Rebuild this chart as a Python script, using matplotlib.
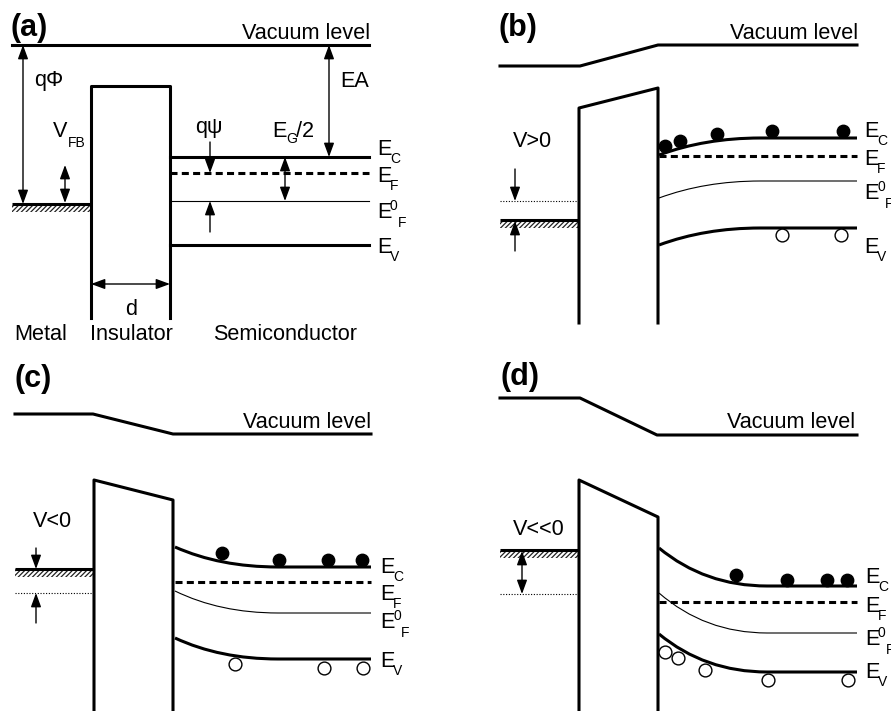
import matplotlib
matplotlib.use('Agg')
import matplotlib.pyplot as plt
from matplotlib.path import Path
from matplotlib.patches import PathPatch, Rectangle

plt.rcParams['font.family'] = ['Liberation Sans', 'DejaVu Sans']
plt.rcParams['hatch.linewidth'] = 0.9

# schematic coordinates (pixel-like, y grows downward)
# panel (a): flat band
vac_a_x = [12, 369]
vac_a_y = [45, 45]
ins_a_x = [91, 91, 170, 170]
ins_a_y = [318, 86, 86, 318]
metal_a = (12, 91, 204)
semi_a_x = (170, 369)
levels_a = {'EC': 157, 'EF': 173, 'EF0': 201, 'EV': 245}

# panel (b): V > 0, accumulation
vac_b_x = [500, 580, 658, 857]
vac_b_y = [66, 66, 45, 45]
ins_b_x = [579, 579, 658, 658]
ins_b_y = [323, 108, 88, 323]
metal_b = (500, 579, 220)
dotted_b = 201
ef_b = 156
# bands: (start, control, end of bending), flat part continues to x_end
bands_b = {'EC': [(659, 155), (705, 138), (760, 138)],
           'EF0': [(659, 198), (705, 181), (760, 181)],
           'EV': [(659, 245), (705, 228), (760, 228)]}
semi_b_x = (659, 857)
electrons_b = [(665, 146), (680, 141), (717, 134), (772, 131), (843, 131)]
holes_b = [(782, 235), (841, 235)]

# panel (c): V < 0, depletion
vac_c_x = [15, 93, 173, 371]
vac_c_y = [414, 414, 434, 434]
ins_c_x = [94, 94, 173, 173]
ins_c_y = [711, 480, 500, 711]
metal_c = (15, 94, 569)
dotted_c = 593
ef_c = 582
bands_c = {'EC': [(175, 547), (220, 567), (278, 567)],
           'EF0': [(175, 591), (220, 613), (278, 613)],
           'EV': [(175, 638), (220, 659), (278, 659)]}
semi_c_x = (175, 371)
electrons_c = [(222, 553), (279, 560), (328, 560), (362, 560)]
holes_c = [(235, 664), (324, 668), (363, 668)]

# panel (d): V << 0, inversion
vac_d_x = [500, 580, 657, 857]
vac_d_y = [398, 398, 435, 435]
ins_d_x = [579, 579, 658, 658]
ins_d_y = [711, 480, 517, 711]
metal_d = (500, 579, 550)
dotted_d = 594
ef_d = 602
bands_d = {'EC': [(659, 548), (705, 586), (767, 586)],
           'EF0': [(659, 593), (705, 633), (767, 633)],
           'EV': [(659, 634), (705, 672), (767, 672)]}
semi_d_x = (659, 857)
electrons_d = [(736, 575), (787, 580), (827, 580), (847, 580)]
holes_d = [(665, 652), (678, 658), (705, 670), (768, 680), (848, 680)]

FS = 15.6
FS_SUB = 10
LW = 2.2

fig = plt.figure(figsize=(8.91, 7.11), dpi=100)
ax = fig.add_axes([0, 0, 1, 1])
ax.set_xlim(0, 891)
ax.set_ylim(711, 0)
ax.axis('off')


def arrow(x0, y0, x1, y1, both=False):
    style = '<|-|>' if both else '-|>'
    ax.annotate('', xy=(x1, y1), xytext=(x0, y0),
                arrowprops=dict(arrowstyle=style + ',head_length=0.6,head_width=0.22',
                                mutation_scale=14, lw=1, color='k',
                                shrinkA=0, shrinkB=0))


def metal(x0, x1, y):
    ax.add_patch(Rectangle((x0, y), x1 - x0, 8, facecolor='white',
                           edgecolor='#222222', lw=0, hatch='///////'))
    ax.plot([x0, x1], [y, y], color='k', lw=LW, solid_capstyle='butt')


def bent(pts, x_end, lw):
    (x0, y0), c, (x1, y1) = pts
    path = Path([(x0, y0), c, (x1, y1), (x_end, y1)],
                [Path.MOVETO, Path.CURVE3, Path.CURVE3, Path.LINETO])
    ax.add_patch(PathPatch(path, facecolor='none', edgecolor='k', lw=lw))


def ef_line(x0, x1, y):
    ax.plot([x0, x1], [y, y], color='k', lw=LW, dashes=(2.3, 1.4))


def label(x, yb, sub, sup=None):
    ax.text(x, yb, 'E', fontsize=FS, va='baseline', ha='left')
    if sup:
        ax.text(x + 13, yb - 8, sup, fontsize=FS_SUB, va='baseline')
        ax.text(x + 21, yb + 9, sub, fontsize=FS_SUB, va='baseline')
    else:
        ax.text(x + 13, yb + 8, sub, fontsize=FS_SUB, va='baseline')


def carriers(el, ho):
    ax.scatter([p[0] for p in el], [p[1] for p in el], s=80, color='k', zorder=5)
    ax.scatter([p[0] for p in ho], [p[1] for p in ho], s=85, facecolor='white',
               edgecolor='k', linewidths=1, zorder=5)


# ---- (a)
ax.text(11, 36, '(a)', fontsize=22, fontweight='bold', va='baseline')
ax.text(370, 39, 'Vacuum level', fontsize=FS, ha='right', va='baseline')
ax.plot(vac_a_x, vac_a_y, color='k', lw=LW)
ax.plot(ins_a_x, ins_a_y, color='k', lw=LW)
metal(*metal_a)
x0, x1 = semi_a_x
ax.plot([x0, x1], [levels_a['EC']] * 2, color='k', lw=LW)
ef_line(x0, x1, levels_a['EF'])
ax.plot([x0, x1], [levels_a['EF0']] * 2, color='k', lw=0.8)
ax.plot([x0, x1], [levels_a['EV']] * 2, color='k', lw=LW)
arrow(23, 45, 23, metal_a[2], both=True)
arrow(65, 165, 65, metal_a[2] - 1, both=True)
arrow(329, 45, 329, levels_a['EC'], both=True)
arrow(210, 142, 210, levels_a['EF'])
arrow(210, 232, 210, levels_a['EF0'])
arrow(285, levels_a['EC'], 285, levels_a['EF0'], both=True)
arrow(91, 284, 170, 284, both=True)
ax.text(34, 86, 'qΦ', fontsize=FS, va='baseline')
ax.text(340, 87, 'EA', fontsize=FS, va='baseline')
ax.text(53, 137, 'V', fontsize=FS, va='baseline')
ax.text(68, 147, 'FB', fontsize=FS_SUB, va='baseline')
ax.text(195, 133, 'qψ', fontsize=FS, va='baseline')
ax.text(272, 137, 'E', fontsize=FS, va='baseline')
ax.text(286, 143, 'G', fontsize=FS_SUB, va='baseline')
ax.text(296, 137, '/2', fontsize=FS, va='baseline')
ax.text(131, 315, 'd', fontsize=FS, va='baseline', ha='center')
ax.text(14, 340, 'Metal', fontsize=FS, va='baseline')
ax.text(90, 340, 'Insulator', fontsize=FS, va='baseline')
ax.text(213, 340, 'Semiconductor', fontsize=FS, va='baseline')
label(377, 155, 'C')
label(377, 182, 'F')
label(377, 218, 'F', '0')
label(377, 253, 'V')

# ---- (b)
ax.text(498, 36, '(b)', fontsize=22, fontweight='bold', va='baseline')
ax.text(858, 39, 'Vacuum level', fontsize=FS, ha='right', va='baseline')
ax.plot(vac_b_x, vac_b_y, color='k', lw=LW)
ax.plot(ins_b_x, ins_b_y, color='k', lw=LW)
metal(*metal_b)
ax.plot([metal_b[0], metal_b[1]], [dotted_b] * 2, color='k', lw=0.8, ls=(0, (1, 1.5)))
arrow(515, 169, 515, dotted_b)
arrow(515, 251, 515, metal_b[2] + 1)
ax.text(513, 147, 'V>0', fontsize=FS, va='baseline')
bent(bands_b['EC'], semi_b_x[1], LW)
bent(bands_b['EF0'], semi_b_x[1], 0.8)
bent(bands_b['EV'], semi_b_x[1], LW)
ef_line(semi_b_x[0], semi_b_x[1], ef_b)
carriers(electrons_b, holes_b)
label(864, 137, 'C')
label(864, 165, 'F')
label(864, 199, 'F', '0')
label(864, 253, 'V')

# ---- (c)
ax.text(15, 387, '(c)', fontsize=22, fontweight='bold', va='baseline')
ax.text(371, 428, 'Vacuum level', fontsize=FS, ha='right', va='baseline')
ax.plot(vac_c_x, vac_c_y, color='k', lw=LW)
ax.plot(ins_c_x, ins_c_y, color='k', lw=LW)
metal(*metal_c)
ax.plot([metal_c[0], metal_c[1]], [dotted_c] * 2, color='k', lw=0.8, ls=(0, (1, 1.5)))
arrow(36, 548, 36, metal_c[2])
arrow(36, 623, 36, dotted_c)
ax.text(33, 527, 'V<0', fontsize=FS, va='baseline')
bent(bands_c['EC'], semi_c_x[1], LW)
bent(bands_c['EF0'], semi_c_x[1], 0.8)
bent(bands_c['EV'], semi_c_x[1], LW)
ef_line(semi_c_x[0], semi_c_x[1], ef_c)
carriers(electrons_c, holes_c)
label(380, 573, 'C')
label(380, 600, 'F')
label(380, 628, 'F', '0')
label(380, 667, 'V')

# ---- (d)
ax.text(500, 385, '(d)', fontsize=22, fontweight='bold', va='baseline')
ax.text(855, 428, 'Vacuum level', fontsize=FS, ha='right', va='baseline')
ax.plot(vac_d_x, vac_d_y, color='k', lw=LW)
ax.plot(ins_d_x, ins_d_y, color='k', lw=LW)
metal(*metal_d)
ax.plot([metal_d[0], metal_d[1]], [dotted_d] * 2, color='k', lw=0.8, ls=(0, (1, 1.5)))
arrow(522, metal_d[2] + 1, 522, dotted_d, both=True)
ax.text(513, 535, 'V<<0', fontsize=FS, va='baseline')
bent(bands_d['EC'], semi_d_x[1], LW)
bent(bands_d['EF0'], semi_d_x[1], 0.8)
bent(bands_d['EV'], semi_d_x[1], LW)
ef_line(semi_d_x[0], semi_d_x[1], ef_d)
carriers(electrons_d, holes_d)
label(865, 583, 'C')
label(865, 612, 'F')
label(865, 645, 'F', '0')
label(865, 678, 'V')

fig.savefig('out.png', dpi=100, facecolor='white')
